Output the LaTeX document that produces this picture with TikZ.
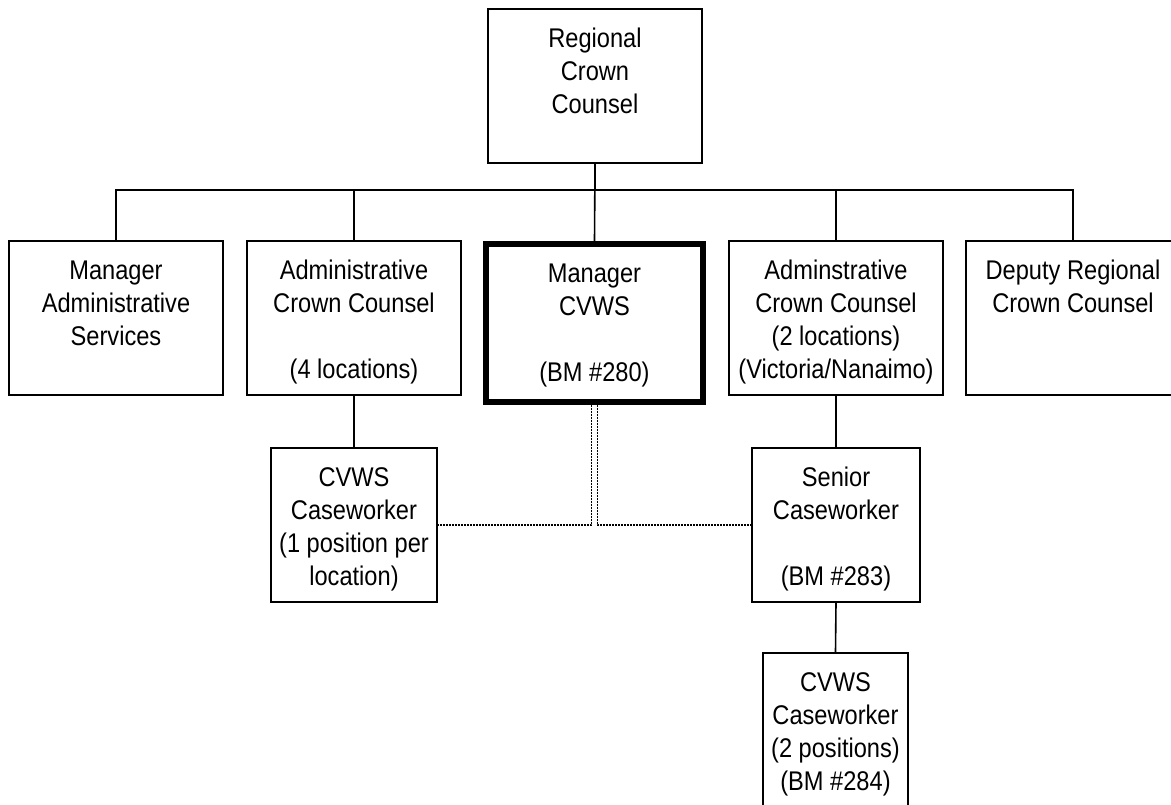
\documentclass[tikz,border=0pt]{standalone}
\usepackage{fontspec}
\setmainfont{Liberation Sans}[FakeStretch=0.875]
\newcommand\obtext[3]{\parbox[c][#2pt][t]{#1pt}{\centering\vspace*{15pt}\strut#3}}
\begin{document}
\begin{tikzpicture}[x=1pt,y=-1pt,
  every node/.style={font=\fontsize{27}{33}\selectfont},
  orgbox/.style={draw=black, line width=1.6pt, inner sep=0pt, anchor=center},
  thickbox/.style={orgbox, line width=6pt},
  conn/.style={draw=black, line width=1.6pt},
  dotconn/.style={draw=black, line width=1.7pt, dash pattern=on 2pt off 1pt}]
\useasboundingbox (0,0) rectangle (1171,805);
\clip (0,0) rectangle (1171,805);
\fill[white] (0,0) rectangle (1171,805);
% boxes
\node[orgbox] (rcc) at (595,86) {\obtext{214}{154}{Regional\\Crown\\Counsel}};
\node[orgbox] (mas) at (116,318) {\obtext{214}{154}{Manager\\Administrative\\Services}};
\node[orgbox] (acc4) at (354,318) {\obtext{214}{154}{Administrative\\Crown Counsel\\~\\(4 locations)}};
\node[thickbox] (mcv) at (594.5,322.75) {\obtext{217}{157.5}{Manager\\CVWS\\~\\(BM \#280)}};
\node[orgbox] (acc2) at (836,318) {\obtext{214}{154}{Adminstrative\\Crown Counsel\\(2 locations)\\(Victoria/Nanaimo)}};
\node[orgbox] (drc) at (1073,318) {\obtext{214}{154}{Deputy Regional\\Crown Counsel}};
\node[orgbox] (cw1) at (354,525) {\obtext{166}{154}{CVWS\\Caseworker\\(1 position per\\location)}};
\node[orgbox] (sen) at (836,525) {\obtext{168}{154}{Senior\\Caseworker\\~\\(BM \#283)}};
\node[orgbox] (cw2) at (835.5,734) {\obtext{145}{162}{CVWS\\Caseworker\\(2 positions)\\(BM \#284)}};
% solid connectors
\draw[conn] (rcc.south) -- ++(0,26) -| (mas.north);
\draw[conn] (rcc.south) -- ++(0,26) -| (acc4.north);
\draw[conn] (rcc.south) -- (mcv.north);
\draw[conn] (rcc.south) -- ++(0,26) -| (acc2.north);
\draw[conn] (rcc.south) -- ++(0,26) -| (drc.north);
\draw[conn] (acc4.south) -- (cw1.north);
\draw[conn] (acc2.south) -- (sen.north);
\draw[conn] (sen.south) -- (cw2.north);
% dotted connectors
\draw[dotconn] ([xshift=-3pt]mcv.south) |- (cw1.east);
\draw[dotconn] ([xshift=3pt]mcv.south) |- (sen.west);
\end{tikzpicture}
\end{document}
